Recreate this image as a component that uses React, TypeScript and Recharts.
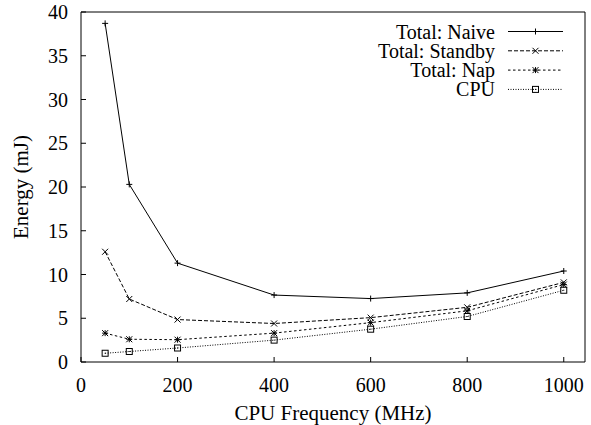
import React from 'react';
import { LineChart, Line, XAxis, YAxis, Label } from 'recharts';

const freqs = [50, 100, 200, 400, 600, 800, 1000];
const naive = [38.7, 20.3, 11.3, 7.65, 7.25, 7.9, 10.4];
const standby = [12.6, 7.2, 4.85, 4.4, 5.07, 6.25, 9.1];
const nap = [3.3, 2.6, 2.55, 3.3, 4.5, 5.85, 8.85];
const cpu = [1.0, 1.2, 1.6, 2.5, 3.75, 5.2, 8.2];
const xTicks = [0, 200, 400, 600, 800, 1000];
const yTicks = [0, 5, 10, 15, 20, 25, 30, 35, 40];
const seriesNames = ['Total: Naive', 'Total: Standby', 'Total: Nap', 'CPU'];

const data = freqs.map((f, i) => ({ f, naive: naive[i], standby: standby[i], nap: nap[i], cpu: cpu[i] }));

const FONT = '"Liberation Serif", "Times New Roman", serif';
const INK = '#000';

const dashes = ['', '4 2', '2.5 2.5', '1 1.5'];

function marker(kind: number, cx: number, cy: number, key?: any) {
  const s = 3;
  const common = { stroke: INK, strokeWidth: 1, fill: 'none' };
  if (kind === 0) {
    return (
      <g key={key}>
        <line x1={cx - s} y1={cy} x2={cx + s} y2={cy} {...common} />
        <line x1={cx} y1={cy - s} x2={cx} y2={cy + s} {...common} />
      </g>
    );
  }
  if (kind === 1) {
    return (
      <g key={key}>
        <line x1={cx - s} y1={cy - s} x2={cx + s} y2={cy + s} {...common} />
        <line x1={cx - s} y1={cy + s} x2={cx + s} y2={cy - s} {...common} />
      </g>
    );
  }
  if (kind === 2) {
    return (
      <g key={key}>
        <line x1={cx - s} y1={cy} x2={cx + s} y2={cy} {...common} />
        <line x1={cx} y1={cy - s} x2={cx} y2={cy + s} {...common} />
        <line x1={cx - s} y1={cy - s} x2={cx + s} y2={cy + s} {...common} />
        <line x1={cx - s} y1={cy + s} x2={cx + s} y2={cy - s} {...common} />
      </g>
    );
  }
  return (
    <g key={key}>
      <rect x={cx - s} y={cy - s} width={2 * s} height={2 * s} {...common} />
      <rect x={cx - 0.5} y={cy - 0.5} width={1} height={1} fill={INK} />
    </g>
  );
}

const makeDot = (kind: number) => (p: any) => {
  const { cx, cy, index } = p;
  if (cx == null || cy == null) return <g key={`e${index}`} />;
  return marker(kind, cx, cy, `d${kind}-${index}`);
};

const YLabel = (props: any) => {
  const vb = props.viewBox || { x: 0, y: 0, width: 0, height: 0 };
  const x = vb.x + 28;
  const y = vb.y + vb.height / 2;
  return (
    <text x={x} y={y} transform={`rotate(-90, ${x}, ${y})`} textAnchor="middle" fontSize={21} fontFamily={FONT} fill={INK}>
      Energy (mJ)
    </text>
  );
};

const LegendOverlay = () => {
  const rowY = [31.5, 50.8, 70.1, 89.4];
  return (
    <svg width={591} height={110} style={{ position: 'absolute', left: 0, top: 0, pointerEvents: 'none' }}>
      {seriesNames.map((name, i) => (
        <g key={name}>
          <text x={495} y={rowY[i]} dy="0.35em" textAnchor="end" fontSize={20} fontFamily={FONT} fill={INK}>
            {name}
          </text>
          <line x1={508} y1={rowY[i]} x2={563} y2={rowY[i]} stroke={INK} strokeWidth={1} strokeDasharray={dashes[i] || undefined} />
          {marker(i, 535.5, rowY[i])}
        </g>
      ))}
    </svg>
  );
};

const tickStyle = { fontSize: 20, fontFamily: FONT, fill: INK };

export default function App() {
  const keys = ['naive', 'standby', 'nap', 'cpu'];
  return (
    <div style={{ position: 'absolute', left: 0, top: 0, width: 591, height: 425, background: '#fff' }}>
      <LineChart width={591} height={425} data={data} margin={{ top: 0, right: 0, bottom: 0, left: 0 }}>
        <XAxis
          xAxisId="bottom"
          dataKey="f"
          type="number"
          domain={[0, 1044]}
          ticks={xTicks}
          orientation="bottom"
          height={63}
          tickSize={-5}
          tickMargin={21}
          tick={tickStyle}
          axisLine={{ stroke: INK, strokeWidth: 1 }}
          tickLine={{ stroke: INK, strokeWidth: 1 }}
          interval={0}
        >
          <Label value="CPU Frequency (MHz)" position="insideBottom" offset={5} style={{ fontSize: 21, fontFamily: FONT, fill: INK }} />
        </XAxis>
        <XAxis
          xAxisId="top"
          dataKey="f"
          type="number"
          domain={[0, 1044]}
          ticks={xTicks}
          orientation="top"
          height={12}
          tickSize={-5}
          tick={false}
          axisLine={{ stroke: INK, strokeWidth: 1 }}
          tickLine={{ stroke: INK, strokeWidth: 1 }}
          interval={0}
        />
        <YAxis
          yAxisId="left"
          type="number"
          domain={[0, 40]}
          ticks={yTicks}
          orientation="left"
          width={81}
          tickSize={-5}
          tickMargin={18}
          tick={tickStyle}
          axisLine={{ stroke: INK, strokeWidth: 1 }}
          tickLine={{ stroke: INK, strokeWidth: 1 }}
          interval={0}
        >
          <Label content={<YLabel />} />
        </YAxis>
        <YAxis
          yAxisId="right"
          type="number"
          domain={[0, 40]}
          ticks={yTicks}
          orientation="right"
          width={6}
          tickSize={-5}
          tick={false}
          axisLine={{ stroke: INK, strokeWidth: 1 }}
          tickLine={{ stroke: INK, strokeWidth: 1 }}
          interval={0}
        />
        {keys.map((k, i) => (
          <Line
            key={k}
            xAxisId="bottom"
            yAxisId="left"
            type="linear"
            dataKey={k}
            name={seriesNames[i]}
            stroke={INK}
            strokeWidth={1}
            strokeDasharray={dashes[i] || undefined}
            dot={makeDot(i)}
            activeDot={false}
            isAnimationActive={false}
          />
        ))}
      </LineChart>
      <LegendOverlay />
    </div>
  );
}
